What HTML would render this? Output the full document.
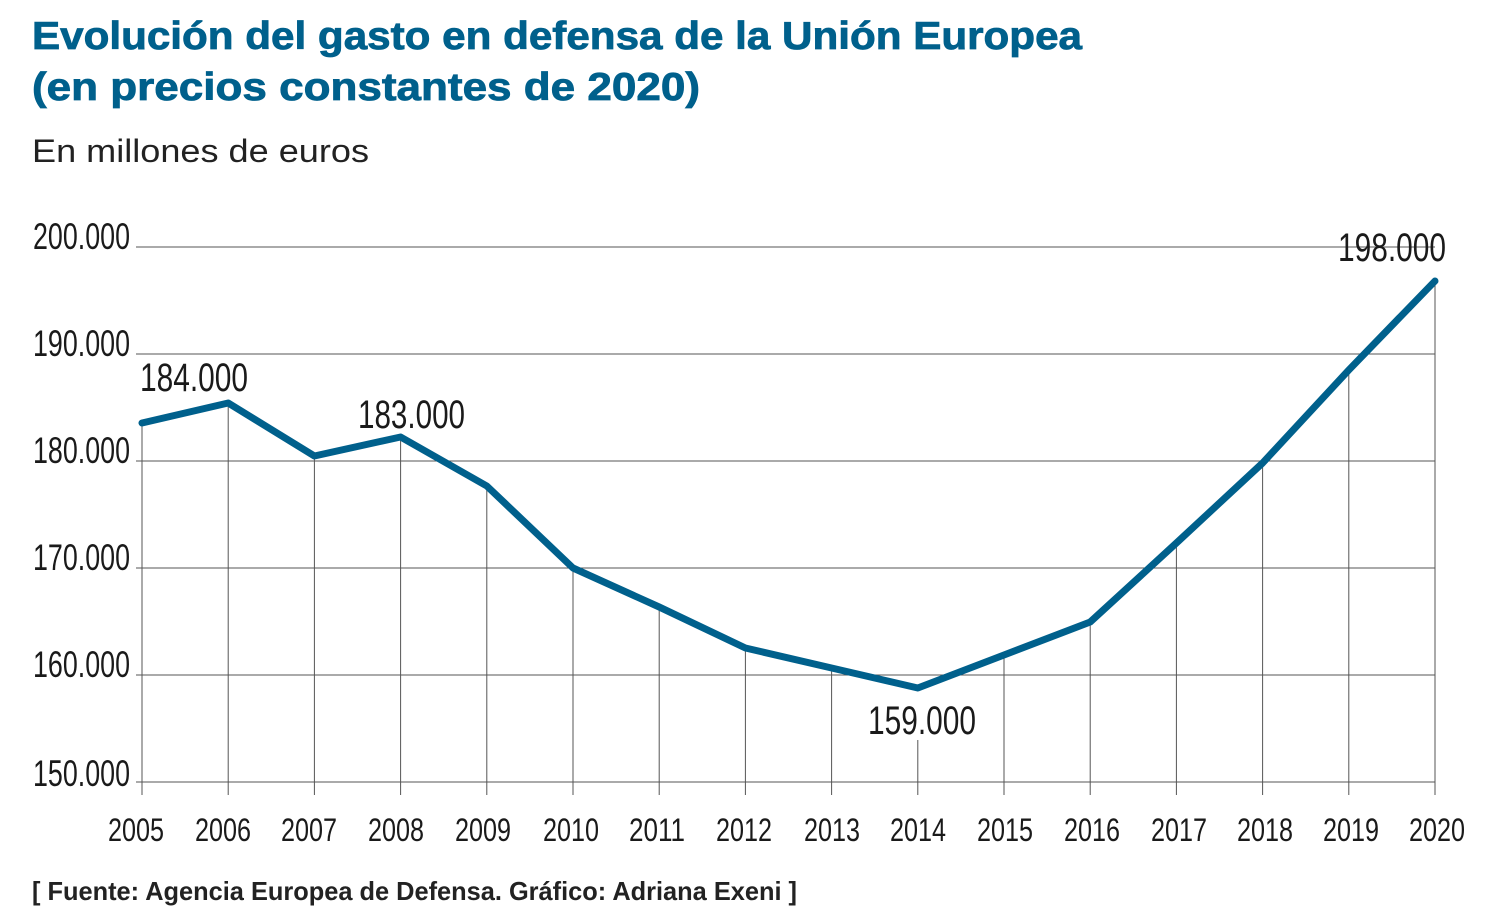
<!DOCTYPE html>
<html><head><meta charset="utf-8"><style>
body{margin:0;background:#fff;width:1493px;height:914px;overflow:hidden}
svg{display:block}
.t{font-family:"Liberation Sans",sans-serif;font-weight:bold;fill:#00608c;font-size:39px}
.n{font-family:"Liberation Sans Narrow","Liberation Sans",sans-serif;fill:#1a1a1a}
</style></head><body>
<svg width="1493" height="914" xmlns="http://www.w3.org/2000/svg">
<text class="t" x="32" y="49" textLength="1050" lengthAdjust="spacingAndGlyphs" stroke="#00608c" stroke-width="0.8">Evolución del gasto en defensa de la Unión Europea</text>
<text class="t" x="32" y="100" textLength="668" lengthAdjust="spacingAndGlyphs" stroke="#00608c" stroke-width="0.8">(en precios constantes de 2020)</text>
<text x="32" y="162" font-family="Liberation Sans,sans-serif" font-size="32" fill="#222" textLength="337" lengthAdjust="spacingAndGlyphs">En millones de euros</text>
<g stroke="#555" stroke-width="1">
<line x1="136" y1="247" x2="1435" y2="247"/><line x1="136" y1="354" x2="1435" y2="354"/>
<line x1="136" y1="461" x2="1435" y2="461"/><line x1="136" y1="568" x2="1435" y2="568"/>
<line x1="136" y1="675" x2="1435" y2="675"/><line x1="136" y1="782" x2="1435" y2="782"/>
<line x1="142.0" y1="423" x2="142.0" y2="795"/><line x1="228.2" y1="403" x2="228.2" y2="795"/>
<line x1="314.4" y1="456" x2="314.4" y2="795"/><line x1="400.6" y1="437" x2="400.6" y2="795"/>
<line x1="486.8" y1="486" x2="486.8" y2="795"/><line x1="573.0" y1="568" x2="573.0" y2="795"/>
<line x1="659.2" y1="607" x2="659.2" y2="795"/><line x1="745.4" y1="648" x2="745.4" y2="795"/>
<line x1="831.6" y1="668" x2="831.6" y2="795"/><line x1="917.8" y1="740" x2="917.8" y2="795"/>
<line x1="1004.0" y1="655" x2="1004.0" y2="795"/><line x1="1090.2" y1="622" x2="1090.2" y2="795"/>
<line x1="1176.4" y1="543" x2="1176.4" y2="795"/><line x1="1262.6" y1="463" x2="1262.6" y2="795"/>
<line x1="1348.8" y1="370" x2="1348.8" y2="795"/><line x1="1435.0" y1="281" x2="1435.0" y2="795"/>
</g>
<polyline fill="none" stroke="#00608c" stroke-width="7" stroke-linejoin="round" stroke-linecap="round"
points="142,423 228.2,403 314.4,456 400.6,437 486.8,486 573,568 659.2,607 745.4,648 831.6,668 917.8,688 1004,655 1090.2,622 1176.4,543 1262.6,463 1348.8,370 1435,281"/>
<g class="n" font-size="37" text-anchor="end">
<text x="130" y="249" textLength="97" lengthAdjust="spacingAndGlyphs">200.000</text>
<text x="130" y="356" textLength="97" lengthAdjust="spacingAndGlyphs">190.000</text>
<text x="130" y="463" textLength="97" lengthAdjust="spacingAndGlyphs">180.000</text>
<text x="130" y="570" textLength="97" lengthAdjust="spacingAndGlyphs">170.000</text>
<text x="130" y="677" textLength="97" lengthAdjust="spacingAndGlyphs">160.000</text>
<text x="130" y="786" textLength="97" lengthAdjust="spacingAndGlyphs">150.000</text>
</g>
<g class="n" font-size="40">
<text x="140" y="391" textLength="108" lengthAdjust="spacingAndGlyphs">184.000</text>
<text x="358" y="428" textLength="107" lengthAdjust="spacingAndGlyphs">183.000</text>
<text x="868" y="734" textLength="108" lengthAdjust="spacingAndGlyphs">159.000</text>
<text x="1338" y="261" textLength="108" lengthAdjust="spacingAndGlyphs">198.000</text>
</g>
<g class="n" font-size="32" text-anchor="middle" lengthAdjust="spacingAndGlyphs">
<text x="136" y="841" textLength="56" lengthAdjust="spacingAndGlyphs">2005</text><text x="223" y="841" textLength="56" lengthAdjust="spacingAndGlyphs">2006</text><text x="309" y="841" textLength="56" lengthAdjust="spacingAndGlyphs">2007</text>
<text x="396" y="841" textLength="56" lengthAdjust="spacingAndGlyphs">2008</text><text x="483" y="841" textLength="56" lengthAdjust="spacingAndGlyphs">2009</text><text x="571" y="841" textLength="56" lengthAdjust="spacingAndGlyphs">2010</text>
<text x="657" y="841" textLength="56" lengthAdjust="spacingAndGlyphs">2011</text><text x="744" y="841" textLength="56" lengthAdjust="spacingAndGlyphs">2012</text><text x="832" y="841" textLength="56" lengthAdjust="spacingAndGlyphs">2013</text>
<text x="918" y="841" textLength="56" lengthAdjust="spacingAndGlyphs">2014</text><text x="1005" y="841" textLength="56" lengthAdjust="spacingAndGlyphs">2015</text><text x="1092" y="841" textLength="56" lengthAdjust="spacingAndGlyphs">2016</text>
<text x="1179" y="841" textLength="56" lengthAdjust="spacingAndGlyphs">2017</text><text x="1265" y="841" textLength="56" lengthAdjust="spacingAndGlyphs">2018</text><text x="1351" y="841" textLength="56" lengthAdjust="spacingAndGlyphs">2019</text>
<text x="1437" y="841" textLength="56" lengthAdjust="spacingAndGlyphs">2020</text>
</g>
<text x="32" y="900" font-family="Liberation Sans,sans-serif" font-weight="bold" font-size="26" fill="#222" textLength="765" lengthAdjust="spacingAndGlyphs">[ Fuente: Agencia Europea de Defensa. Gráfico: Adriana Exeni ]</text>
</svg>
</body></html>
